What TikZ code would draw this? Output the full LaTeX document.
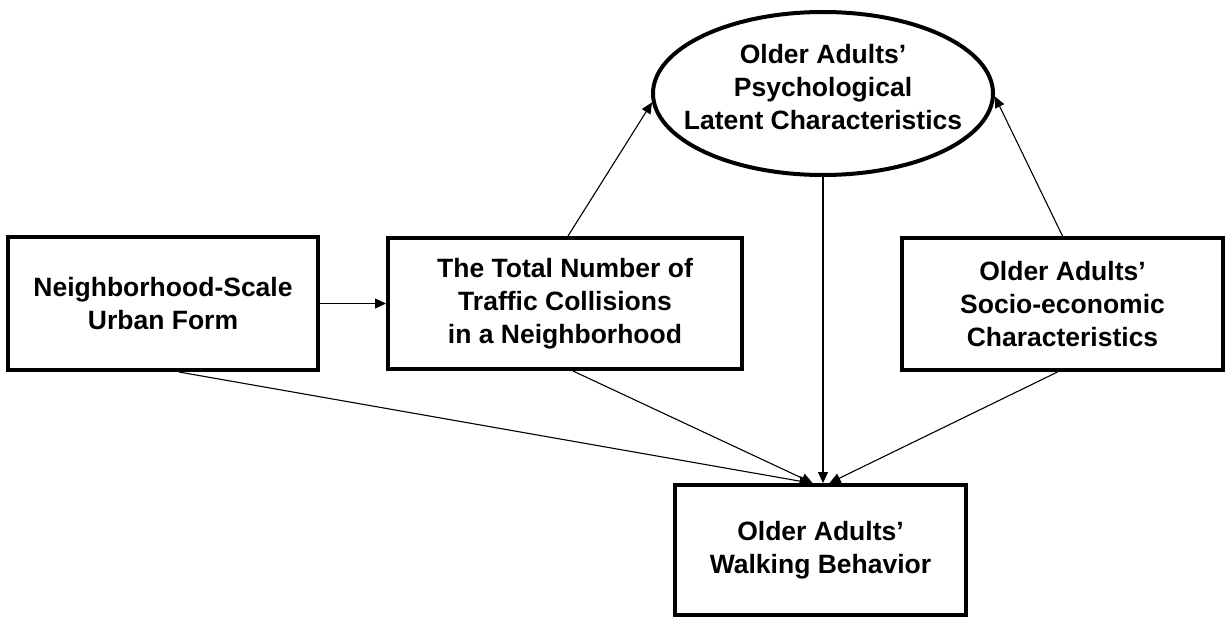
\documentclass[tikz,border=0pt]{standalone}
\usepackage{fontspec}
\setmainfont{Liberation Sans}
\usetikzlibrary{arrows.meta,shapes.geometric}
\begin{document}
\begin{tikzpicture}[x=1pt,y=-1pt,
  txt/.style={align=center,font=\fontsize{26.5}{33}\selectfont\bfseries,inner sep=0pt},
  box/.style={txt,draw,line width=4pt,rectangle},
  arr/.style={line width=1.1pt,-{Triangle[length=11pt,width=10pt]}}]
\useasboundingbox[fill=white] (0,0) rectangle (1228,618);
\node[box,minimum width=310pt,minimum height=133pt] (b1) at (163,303.5) {Neighborhood-Scale\\Urban Form};
\node[box,minimum width=354pt,minimum height=131pt] (b2) at (565,303.5) {The Total Number of\\Traffic Collisions\\in a Neighborhood};
\node[box,minimum width=321pt,minimum height=132pt] (b3) at (1062.5,304) {Older Adults’\\Socio-economic\\Characteristics};
\node[box,minimum width=291pt,minimum height=130pt] (b4) at (820.5,550) {Older Adults’\\Walking Behavior};
\node[draw,ellipse,line width=4pt,minimum width=340pt,minimum height=163pt,inner sep=0pt] (psy) at (823,93.5) {};
\node[txt] (psyt) at (823,87) {Older Adults’\\Psychological\\Latent Characteristics};
\draw[arr] (b1.east) -- (b2.west);
\draw[arr] ([xshift=3pt]b2.north) -- (psy.183);
\draw[arr] (b3.north) -- (psy.359);
\draw[arr] (psy.south) -- (psy.south |- b4.north);
\draw[arr] ([xshift=16pt]b1.south) -- ([xshift=-10pt]b4.north);
\draw[arr] ([xshift=8pt]b2.south) -- ([xshift=-8pt]b4.north);
\draw[arr] ([xshift=-5pt]b3.south) -- ([xshift=9pt]b4.north);
\end{tikzpicture}
\end{document}
